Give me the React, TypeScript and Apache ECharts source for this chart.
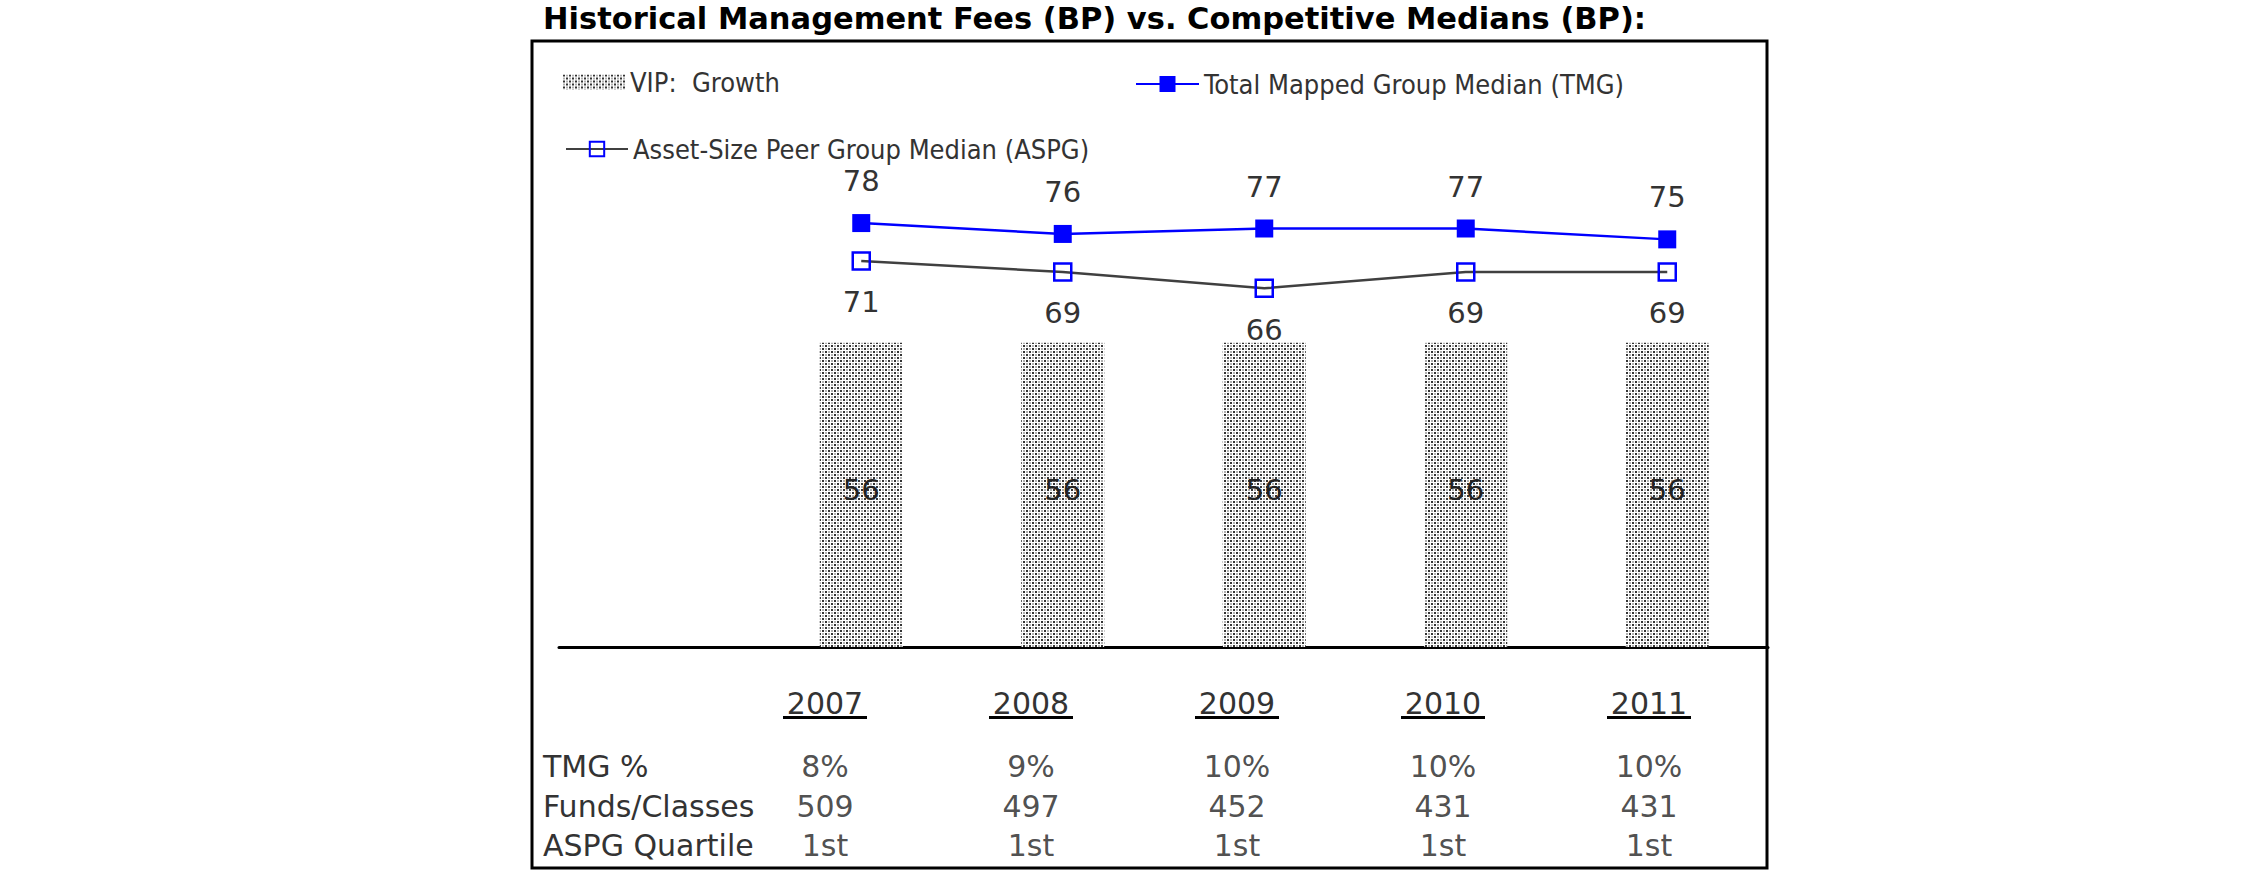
import React, { useEffect, useRef } from 'react';
import * as echarts from 'echarts';

// ---- data ----
const years = ['2007', '2008', '2009', '2010', '2011'];
const vipGrowth = [56, 56, 56, 56, 56];
const tmgMedian = [78, 76, 77, 77, 75];
const aspgMedian = [71, 69, 66, 69, 69];
const tableRows = ['TMG %', 'Funds/Classes', 'ASPG Quartile'];
const tmgPct = [8, 9, 10, 10, 10];
const fundsClasses = [509, 497, 452, 431, 431];
const aspgQuartile = ['1st', '1st', '1st', '1st', '1st'];

const TITLE = 'Historical Management Fees (BP) vs. Competitive Medians (BP):';
const NAME_VIP = 'VIP:  Growth';
const NAME_TMG = 'Total Mapped Group Median (TMG)';
const NAME_ASPG = 'Asset-Size Peer Group Median (ASPG)';

const FONT = '"DejaVu Sans", Verdana, sans-serif';
const LEGEND_FONT = '"DejaVu Sans Condensed", "Liberation Sans", sans-serif';

function makePattern(): HTMLCanvasElement {
  const c = document.createElement('canvas');
  c.width = 6;
  c.height = 6;
  const ctx = c.getContext('2d')!;
  ctx.fillStyle = '#ffffff';
  ctx.fillRect(0, 0, 6, 6);
  ctx.fillStyle = '#333333';
  ctx.fillRect(0, 0, 2, 2);
  ctx.fillRect(3, 3, 2, 2);
  ctx.fillStyle = '#b0b0b0';
  ctx.fillRect(3, 0, 2, 2);
  ctx.fillRect(0, 3, 2, 2);
  return c;
}

function buildOption(pattern: HTMLCanvasElement) {
  const axisCats = ['', ...years];
  const pad = (arr: number[]) => [null, ...arr];

  const tableTexts: string[] = [];
  const tableData: number[][] = [];
  years.forEach((_, c) => {
    tableData.push([c, 0]);
    tableTexts.push(`${tmgPct[c]}%`);
    tableData.push([c, 1]);
    tableTexts.push(String(fundsClasses[c]));
    tableData.push([c, 2]);
    tableTexts.push(aspgQuartile[c]);
  });

  const legendText = {
    fontFamily: LEGEND_FONT,
    fontSize: 27,
    lineHeight: 28,
    color: '#333',
  };

  const patternFill: any = { image: pattern, repeat: 'repeat', imageWidth: 6, imageHeight: 6 };

  return {
    animation: false,
    backgroundColor: '#ffffff',
    title: {
      text: TITLE,
      left: 543,
      top: 3,
      padding: 0,
      textStyle: { fontFamily: FONT, fontWeight: 'bold', fontSize: 30.5, lineHeight: 30, color: '#000' },
    },
    legend: [
      {
        data: [{ name: NAME_VIP, icon: 'rect' }],
        left: 563,
        top: 68,
        padding: 0,
        itemWidth: 62,
        itemHeight: 15,
        selectedMode: false,
        textStyle: legendText,
      },
      {
        data: [NAME_TMG],
        left: 1135,
        top: 70,
        padding: 0,
        itemWidth: 63,
        itemHeight: 20,
        selectedMode: false,
        textStyle: legendText,
      },
      {
        data: [NAME_ASPG],
        left: 565,
        top: 135,
        padding: 0,
        itemWidth: 62,
        itemHeight: 18,
        selectedMode: false,
        textStyle: legendText,
      },
    ],
    grid: [
      { left: 559, top: 103.5, width: 1209, height: 543.5 },
      { left: 722, top: 747, width: 1030, height: 118.5 },
    ],
    xAxis: [
      {
        type: 'category',
        gridIndex: 0,
        data: axisCats,
        axisLine: { lineStyle: { color: '#000', width: 3 } },
        axisTick: { show: false },
        axisLabel: { show: false },
        splitLine: { show: false },
      },
      {
        type: 'category',
        gridIndex: 1,
        position: 'top',
        data: years,
        axisLine: { show: false },
        axisTick: { show: false },
        splitLine: { show: false },
        axisLabel: {
          margin: 28,
          formatter: (v: string) => `{y|${v}}\n{u| }`,
          rich: {
            y: { fontFamily: FONT, fontSize: 30, lineHeight: 26, color: '#333' },
            u: { width: 84, height: 3, lineHeight: 3, fontSize: 3, backgroundColor: '#000' },
          },
        },
      },
    ],
    yAxis: [
      { type: 'value', gridIndex: 0, min: 0, max: 100, show: false },
      {
        type: 'category',
        gridIndex: 1,
        data: tableRows,
        inverse: true,
        axisLine: { show: false },
        axisTick: { show: false },
        splitLine: { show: false },
        axisLabel: { align: 'left', margin: 179, fontFamily: FONT, fontSize: 30, color: '#333' },
      },
    ],
    series: [
      {
        name: NAME_VIP,
        type: 'bar',
        xAxisIndex: 0,
        yAxisIndex: 0,
        data: pad(vipGrowth),
        barWidth: 83,
        itemStyle: { color: patternFill },
        label: {
          show: true,
          position: 'inside',
          offset: [0, -5],
          fontFamily: FONT,
          fontSize: 29,
          color: '#222',
        },
        z: 1,
      },
      {
        name: NAME_ASPG,
        type: 'line',
        xAxisIndex: 0,
        yAxisIndex: 0,
        data: pad(aspgMedian),
        symbol: 'rect',
        symbolSize: 17,
        lineStyle: { color: '#404040', width: 2.5 },
        itemStyle: { color: 'rgba(255,255,255,0)', borderColor: '#0000ff', borderWidth: 2.5 },
        label: {
          show: true,
          position: 'bottom',
          distance: 16.5,
          fontFamily: FONT,
          fontSize: 29,
          lineHeight: 30,
          color: '#333',
        },
        z: 3,
      },
      {
        name: NAME_TMG,
        type: 'line',
        xAxisIndex: 0,
        yAxisIndex: 0,
        data: pad(tmgMedian),
        symbol: 'rect',
        symbolSize: 18,
        lineStyle: { color: '#0000ff', width: 2.5 },
        itemStyle: { color: '#0000ff' },
        label: {
          show: true,
          position: 'top',
          distance: 18,
          fontFamily: FONT,
          fontSize: 29,
          lineHeight: 30,
          color: '#333',
        },
        z: 4,
      },
      {
        name: 'table',
        type: 'scatter',
        xAxisIndex: 1,
        yAxisIndex: 1,
        data: tableData,
        symbolSize: 1,
        itemStyle: { color: 'rgba(0,0,0,0)' },
        silent: true,
        label: {
          show: true,
          position: 'inside',
          formatter: (p: any) => tableTexts[p.dataIndex],
          fontFamily: FONT,
          fontSize: 30,
          color: '#222',
        },
      },
    ],
    graphic: [
      {
        type: 'rect',
        silent: true,
        z: 100,
        shape: { x: 532, y: 41, width: 1235, height: 827 },
        style: { fill: 'transparent', stroke: '#000', lineWidth: 3 },
      },
    ],
  };
}

export default function App() {
  const ref = useRef<HTMLDivElement>(null);
  useEffect(() => {
    document.body.style.margin = '0';
    if (!ref.current) return;
    const chart = echarts.init(ref.current, null, { renderer: 'svg', width: 2250, height: 895 });
    chart.setOption(buildOption(makePattern()) as any);
    return () => chart.dispose();
  }, []);
  return <div ref={ref} style={{ width: 2250, height: 895, background: '#fff' }} />;
}
